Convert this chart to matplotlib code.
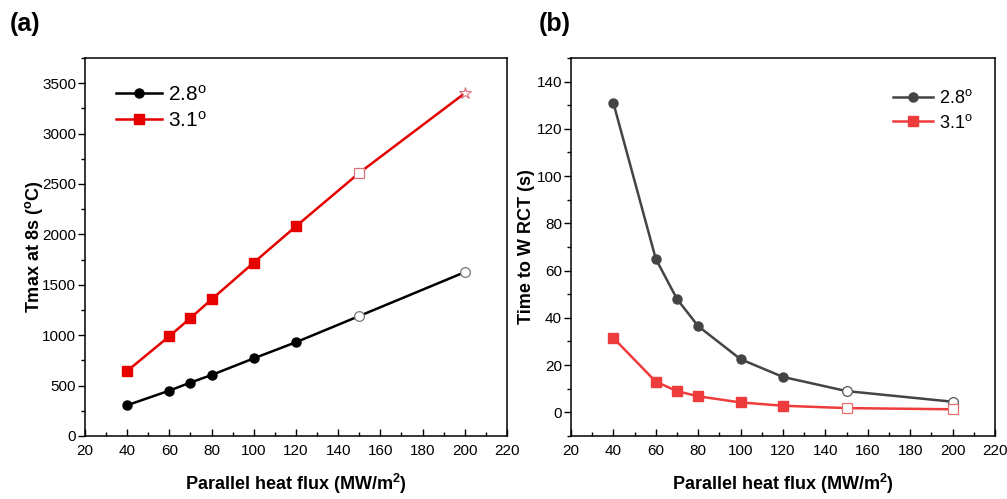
import numpy as np
import matplotlib
matplotlib.use("Agg")
import matplotlib.pyplot as plt
from matplotlib.ticker import MultipleLocator

plt.rcParams['font.family'] = ['Liberation Sans', 'DejaVu Sans']
plt.rcParams['mathtext.fontset'] = 'custom'
plt.rcParams['mathtext.rm'] = 'Liberation Sans'
plt.rcParams['mathtext.it'] = 'Liberation Sans'
plt.rcParams['mathtext.bf'] = 'Liberation Sans:bold'

# data
flux = [40, 60, 70, 80, 100, 120, 150, 200]
labels = [r'2.8$^\mathrm{o}$', r'3.1$^\mathrm{o}$']
tmax_28 = [305, 450, 530, 605, 770, 930, 1190, 1625]
tmax_31 = [645, 990, 1170, 1355, 1720, 2080, 2610, 3400]
time_28 = [131, 65, 48, 36.5, 22.5, 15, 9, 4.5]
time_31 = [31.5, 13, 9, 6.8, 4.2, 2.8, 1.8, 1.3]
n_filled = 6   # the last two points are drawn hollow

fig = plt.figure(figsize=(10.07, 4.99), dpi=100)
axa = fig.add_axes([0.0844, 0.1263, 0.419, 0.7575])
axb = fig.add_axes([0.567, 0.1263, 0.421, 0.7575])

def style(ax):
    for s in ax.spines.values():
        s.set_linewidth(1.1)
    ax.set_xlim(20, 220)
    ax.xaxis.set_major_locator(MultipleLocator(20))
    ax.xaxis.set_minor_locator(MultipleLocator(10))
    ax.tick_params(axis='x', which='both', direction='in', top=False, labelsize=11, pad=6)
    ax.tick_params(axis='x', which='major', length=5, width=1)
    ax.tick_params(axis='x', which='minor', length=3, width=1)
    ax.tick_params(axis='y', which='both', direction='out', right=False, labelsize=11, pad=1.5)
    ax.tick_params(axis='y', which='major', length=5, width=1)
    ax.tick_params(axis='y', which='minor', length=3, width=1)
    ax.set_xlabel('Parallel heat flux (MW/m$^\\mathbf{2}$)', fontsize=13, fontweight='bold', labelpad=10)

# (a)
x = np.array(flux)
c_blk, c_red = 'black', '#e60000'
axa.plot(x, tmax_28, color=c_blk, lw=1.8, label=labels[0],
         marker='o', ms=6.5, markevery=list(range(n_filled)))
axa.plot(x, tmax_31, color=c_red, lw=1.8, label=labels[1],
         marker='s', ms=6.5, markevery=list(range(n_filled)))
axa.plot(x[6:], tmax_28[6:], ls='none', marker='o', ms=7, mfc='white', mec='#777777', mew=0.9)
axa.plot(x[6:7], tmax_31[6:7], ls='none', marker='s', ms=7, mfc='white', mec='#d9707a', mew=0.9)
axa.plot(x[7:], tmax_31[7:], ls='none', marker='*', ms=9, mfc='white', mec='#d9707a', mew=0.8)
axa.set_ylim(0, 3750)
axa.yaxis.set_major_locator(MultipleLocator(500))
axa.yaxis.set_minor_locator(MultipleLocator(250))
style(axa)
axa.set_ylabel('Tmax at 8s ($^\\mathbf{o}$C)', fontsize=13, fontweight='bold', labelpad=-2)
axa.legend(loc='upper left', bbox_to_anchor=(0.03, 0.98), frameon=False, fontsize=15,
           handlelength=2.2, handletextpad=0.3, labelspacing=0.3)

# (b)
c_gry, c_red2 = '#444444', '#ee3b3b'
axb.plot(x, time_28, color=c_gry, lw=1.8, label=labels[0],
         marker='o', ms=6.5, markevery=list(range(n_filled)))
axb.plot(x, time_31, color=c_red2, lw=1.8, label=labels[1],
         marker='s', ms=6.5, markevery=list(range(n_filled)))
axb.plot(x[6:], time_28[6:], ls='none', marker='o', ms=7, mfc='white', mec='#555555', mew=0.9)
axb.plot(x[6:], time_31[6:], ls='none', marker='s', ms=7, mfc='white', mec='#e87070', mew=0.9)
axb.set_ylim(-10, 150)
axb.yaxis.set_major_locator(MultipleLocator(20))
axb.yaxis.set_minor_locator(MultipleLocator(10))
style(axb)
axb.set_ylabel('Time to W RCT (s)', fontsize=13, fontweight='bold', labelpad=1)
axb.legend(loc='upper right', bbox_to_anchor=(0.985, 0.96), frameon=False, fontsize=13,
           handlelength=2.2, handletextpad=0.3, labelspacing=0.35)

fig.text(0.010, 0.975, '(a)', fontsize=18, fontweight='bold', va='top')
fig.text(0.535, 0.975, '(b)', fontsize=18, fontweight='bold', va='top')

fig.savefig('out.png', dpi=100)
